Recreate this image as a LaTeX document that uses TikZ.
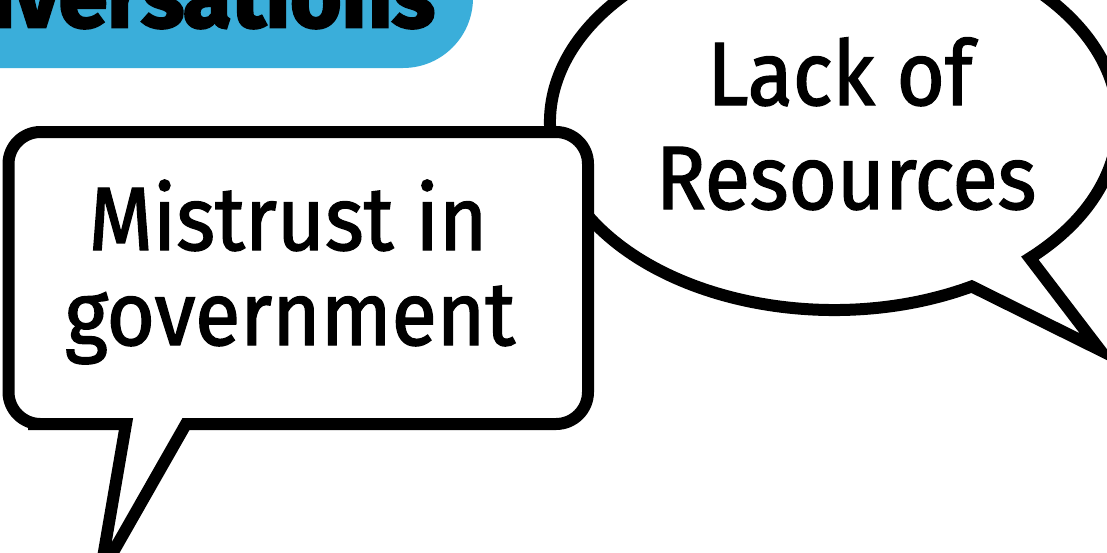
\documentclass[tikz,border=0pt]{standalone}
\usepackage{fontspec}
\setmainfont{Fira Sans}[FakeBold=1.6, FakeStretch=0.92]
\newfontfamily\heavyfont{Fira Sans}[FakeBold=3]
\usetikzlibrary{calc}
\definecolor{bannerblue}{HTML}{3AAEDA}
\tikzset{
  bubble/.style={draw=black, fill=white, line width=12pt, line join=round, line cap=round},
  bubbletext/.style={font=\fontsize{90}{104}\selectfont, text=black, inner sep=0pt, anchor=base},
}
\begin{document}
\begin{tikzpicture}[x=1pt, y=-1pt]
\useasboundingbox (0,0) rectangle (1107,552);
\clip (0,0) rectangle (1107,552);
\fill[white] (0,0) rectangle (1107,552);
% banner
\fill[bannerblue, rounded corners=70pt] (-200,-200) rectangle (473,68);
\node[font=\heavyfont\bfseries\fontsize{88}{100}\selectfont, text=black, inner sep=0pt, anchor=base east] (banner) at (435,27) {Conversations};
% ellipse bubble
\coordinate (ec) at (834,122);
\coordinate (etip) at (1100,350);
\draw[bubble, line join=miter] ($(ec)+(61:284 and 188)$) arc[start angle=61, end angle=406.4, x radius=284, y radius=188] -- (etip) -- cycle;
% rectangle bubble
\coordinate (rtip) at (100,575);
\draw[bubble, line join=miter] (rtip) -- (186,424) -- (230,424) [rounded corners=32pt] -- (588,424) -- (588,132) -- (8.5,132) -- (8.5,424) -- (60,424) [sharp corners] -- (126,424) -- cycle;
% texts
\node[bubbletext] (lack1) at (840,105) {Lack of};
\node[bubbletext] (lack2) at (846,209) {Resources};
\node[bubbletext] (mis1) at (288,250) {Mistrust in};
\node[bubbletext] (mis2) at (290,345) {government};
\end{tikzpicture}
\end{document}
